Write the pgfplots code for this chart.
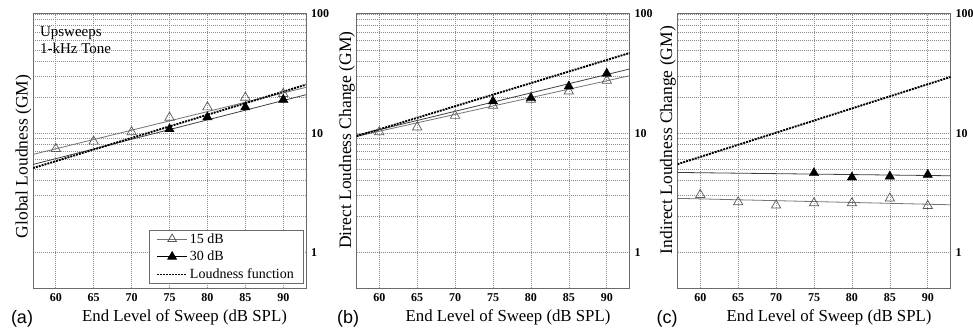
\documentclass[border=0pt]{standalone}
\usepackage{fontspec}
\setmainfont{Liberation Serif}
\newfontfamily\sansfont{Liberation Sans}
\usepackage{pgfplots}
\pgfplotsset{compat=1.18}

\definecolor{gridc}{gray}{0.55}
\definecolor{framec}{gray}{0.42}
\definecolor{lineA}{gray}{0.45}
\definecolor{lineB}{gray}{0.25}

\pgfplotsset{
  longline/.style={legend image code/.code={\draw[mark repeat=2,mark phase=2,##1] plot coordinates {(0pt,0pt) (15pt,0pt) (30pt,0pt)};}},
  mypanel/.style={
    scale only axis, width=273pt, height=274pt,
    xmin=57, xmax=93, ymin=0.5, ymax=100,
    xtick={60,65,...,90}, xticklabels={60,65,70,75,80,85,90},
    ytick={1,10,100}, yticklabels={1,10,100},
    yticklabel pos=right,
    major tick length=0pt, minor tick length=0pt,
    xmajorgrids, ymajorgrids, yminorgrids,
    grid style={gridc, dash pattern=on 1pt off 1pt, line width=0.55pt},
    minor grid style={gridc, dash pattern=on 1pt off 1pt, line width=0.55pt},
    axis line style={framec, line width=1pt},
    xticklabel style={font=\bfseries\fontsize{12}{13}\selectfont, yshift=-2pt},
    yticklabel style={font=\bfseries\fontsize{12}{13}\selectfont, xshift=1.5pt},
    xlabel={End Level of Sweep (dB SPL)},
    xlabel style={at={(axis description cs:0.555,-0.124)}, anchor=base, font=\fontsize{16.8}{18}\selectfont},
  },
  regA/.style={lineA, line width=0.8pt, forget plot},
  regB/.style={lineB, line width=0.8pt, forget plot},
  loud/.style={black, line width=1.9pt, dash pattern=on 2pt off 1pt, forget plot},
  ptsA/.style={only marks, mark=triangle, mark size=5.4pt, mark options={fill=white, draw=gray!70!black, line width=0.7pt, solid}, forget plot},
  ptsB/.style={only marks, mark=triangle*, mark size=5.4pt, mark options={fill=black, draw=black, solid}, forget plot},
}

\begin{document}
\begin{tikzpicture}
\path[use as bounding box] (0,0) rectangle (973pt,329pt);

% ---------------- (a)
\begin{axis}[ymode=log, mypanel, at={(33pt,41pt)}, anchor=south west,
  ylabel={Global Loudness (GM)},
  ylabel style={at={(axis description cs:-0.02,0.48)}, rotate=0, anchor=base, font=\fontsize{17.5}{19}\selectfont},
  legend style={at={(axis description cs:0.989,0.015)}, anchor=south east, draw=framec, fill=white,
    font=\fontsize{14}{15.5}\selectfont, inner xsep=7pt, inner ysep=1.5pt, row sep=2.5pt},
  legend cell align=left]
\addlegendimage{longline, lineA, line width=0.8pt, mark=triangle, mark size=5pt, mark options={fill=white, draw=gray!70!black, solid}}
\addlegendentry{15 dB}
\addlegendimage{longline, black, line width=0.8pt, mark=triangle*, mark size=5pt, mark options={fill=black, solid}}
\addlegendentry{30 dB}
\addlegendimage{longline, black, line width=1.7pt, dash pattern=on 2pt off 1pt}
\addlegendentry{Loudness function}
\addplot[regA] coordinates {(57,6.62) (93,24.2)};
\addplot[regB] coordinates {(57,5.45) (93,21.0)};
\addplot[loud] coordinates {(57,5.08) (93,25.5)};
\addplot[ptsA] coordinates {(60,7.38) (65,8.51) (70,10.2) (75,13.5) (80,16.5) (85,19.9) (90,21.4)};
\addplot[ptsB] coordinates {(75,10.8) (80,13.6) (85,16.5) (90,19.1)};
\node[anchor=north west, align=left, inner sep=0pt, font=\fontsize{15}{17}\selectfont] at (axis description cs:0.025,0.955) {Upsweeps\\1-kHz Tone};
\end{axis}

% ---------------- (b)
\begin{axis}[ymode=log, mypanel, at={(356.5pt,41pt)}, anchor=south west,
  ylabel={Direct Loudness Change (GM)},
  ylabel style={at={(axis description cs:-0.02,0.54)}, rotate=0, anchor=base, font=\fontsize{17.5}{19}\selectfont}]
\addplot[regA] coordinates {(57,9.4) (93,30.3)};
\addplot[regB] coordinates {(57,9.6) (93,34.5)};
\addplot[loud] coordinates {(57,9.4) (93,47.0)};
\addplot[ptsA] coordinates {(60,10.2) (65,11.2) (70,14.0) (75,17.0) (80,19.1) (85,22.4) (90,27.6)};
\addplot[ptsB] coordinates {(75,18.5) (80,19.7) (85,24.7) (90,31.6)};
\end{axis}

% ---------------- (c)
\begin{axis}[ymode=log, mypanel, at={(677.5pt,41pt)}, anchor=south west,
  ylabel={Indirect Loudness Change (GM)},
  ylabel style={at={(axis description cs:-0.02,0.54)}, rotate=0, anchor=base, font=\fontsize{17.5}{19}\selectfont}]
\addplot[regA] coordinates {(57,2.83) (93,2.50)};
\addplot[regB] coordinates {(57,4.67) (93,4.38)};
\addplot[loud] coordinates {(57,5.48) (93,29.6)};
\addplot[ptsA] coordinates {(60,3.03) (65,2.63) (70,2.47) (75,2.58) (80,2.58) (85,2.83) (90,2.45)};
\addplot[ptsB] coordinates {(75,4.62) (80,4.25) (85,4.33) (90,4.47)};
\end{axis}

\node[anchor=base, font=\sansfont\fontsize{18}{20}\selectfont] at (22pt,6pt) {(a)};
\node[anchor=base, font=\sansfont\fontsize{18}{20}\selectfont] at (348pt,6pt) {(b)};
\node[anchor=base, font=\sansfont\fontsize{18}{20}\selectfont] at (667pt,6pt) {(c)};
\end{tikzpicture}
\end{document}
